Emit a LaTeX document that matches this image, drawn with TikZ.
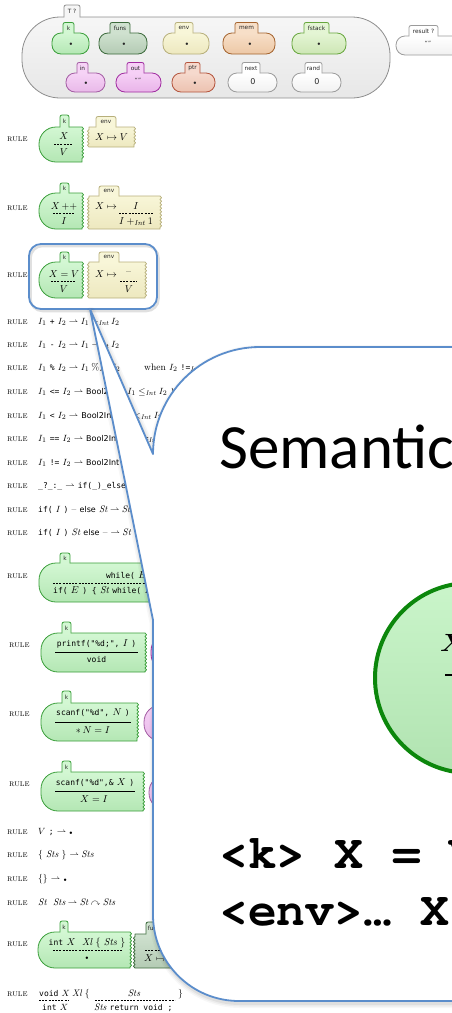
\documentclass[tikz,border=0pt]{standalone}
\usepackage{amsmath,amssymb}
\usepackage{fontspec}
\newfontfamily\lblfont{DejaVu Sans}
\newfontfamily\kcodefont{DejaVu Sans Mono}
\newfontfamily\slidefont{Carlito}
\newfontfamily\slidecode{texgyrecursor-bold.otf}
\usetikzlibrary{decorations.pathmorphing}

% cell colours: A = top shade, B = bottom shade, L = outline
\definecolor{kA}{HTML}{D3F7D3}\definecolor{kB}{HTML}{B4E7B4}\definecolor{kL}{HTML}{3A9E3A}
\definecolor{funsA}{HTML}{CFE1CF}\definecolor{funsB}{HTML}{B4CBB4}\definecolor{funsL}{HTML}{3C6A3C}
\definecolor{envA}{HTML}{F8F6D8}\definecolor{envB}{HTML}{EDE8BF}\definecolor{envL}{HTML}{B7AF7B}
\definecolor{memA}{HTML}{F7DFC8}\definecolor{memB}{HTML}{EDC8A6}\definecolor{memL}{HTML}{A4632E}
\definecolor{fstA}{HTML}{E4F5D4}\definecolor{fstB}{HTML}{CDE6B5}\definecolor{fstL}{HTML}{67A63D}
\definecolor{inA}{HTML}{F6D3F6}\definecolor{inB}{HTML}{E9B9E9}\definecolor{inL}{HTML}{A35CA3}
\definecolor{outA}{HTML}{F6D0F6}\definecolor{outB}{HTML}{E9B4E9}\definecolor{outL}{HTML}{A02BA0}
\definecolor{ptrA}{HTML}{F6D9CD}\definecolor{ptrB}{HTML}{ECC2B0}\definecolor{ptrL}{HTML}{B3533C}
\definecolor{nxA}{HTML}{FFFFFF}\definecolor{nxB}{HTML}{F1F1F1}\definecolor{nxL}{HTML}{9B9B9B}
\definecolor{TA}{HTML}{F6F6F6}\definecolor{TB}{HTML}{E7E7E7}\definecolor{TL}{HTML}{8D8D8D}
\definecolor{bigA}{HTML}{CAF5CA}\definecolor{bigB}{HTML}{B1E3B1}\definecolor{bigL}{HTML}{0C870C}
\definecolor{calloutL}{HTML}{5B8DCB}

\newcommand\kc[1]{{\kcodefont\fontsize{8}{9}\selectfont #1}}
\newcommand\ks[1]{{\lblfont\fontsize{8}{9}\selectfont #1}}
\newcommand\kdot{{\fontsize{5}{5}\selectfont$\bullet$}}
\newcommand\Int{\mathit{Int}}

\tikzset{
  wave/.style={decoration={bumps, amplitude=1.5pt, segment length=7pt}},
  cellline/.style={line width=0.8pt, line join=round},
  lbl/.style={inner sep=0pt, font=\lblfont\fontsize{5.8}{7}\selectfont, text=black!85},
  m/.style={inner sep=0pt, font=\fontsize{10}{11}\selectfont},
  rt/.style={anchor=base west, inner sep=0pt, font=\fontsize{9.5}{10}\selectfont},
  rulename/.style={anchor=base west, inner sep=0pt, font=\fontsize{9}{10}\selectfont},
  dsh/.style={line width=0.6pt, dash pattern=on 2pt off 1.2pt},
  bar/.style={line width=0.7pt},
  bigcode/.style={anchor=base west, inner sep=0pt, font=\slidecode\fontsize{48}{48}\selectfont},
}

% tab on top of a cell: name, x1, x2, top, bottom, colour prefix, label
\newcommand\celltab[7]{%
  \fill[#6A, rounded corners=2pt] (#2,#5+1.5) -- (#2,#4) -- (#3,#4) -- (#3,#5+1.5) -- cycle;
  \draw[#6L, cellline, rounded corners=2pt] (#2,#5) -- (#2,#4) -- (#3,#4) -- (#3,#5);
  \node[lbl] (#1) at ({(#2+#3)/2},{(#4+#5)/2+0.4}) {#7};
}
% configuration cell: name, colour, x1, x2, y1, y2, tab x1, tab x2, label
\newcommand\cfgcell[9]{%
  \path[draw=#2L, top color=#2A, bottom color=#2B, cellline, rounded corners=9pt] (#3,#5) rectangle (#4,#6);
  \celltab{#1}{#7}{#8}{#5-10.5}{#5}{#2}{#9}%
}
% rule cell, rounded on the left, torn on the right: colour, x1, x2, y1, y2
\newcommand\kbody[5]{%
  \path[draw=#1L, top color=#1A, bottom color=#1B, cellline]
    (#3,#4) decorate[wave]{-- (#3,#5)} -- ({#2+17},#5)
    .. controls ({#2+7.6},#5) and (#2,{#5-7.6}) .. (#2,{#5-17})
    -- (#2,{#4+17})
    .. controls (#2,{#4+7.6}) and ({#2+7.6},#4) .. ({#2+17},#4) -- cycle;
}
% rule cell torn on both sides
\newcommand\wbody[5]{%
  \path[draw=#1L, top color=#1A, bottom color=#1B, cellline]
    (#2,#4) -- (#3,#4) decorate[wave]{-- (#3,#5)} -- (#2,#5) decorate[wave]{-- (#2,#4)} -- cycle;
}
% rule cell torn on the left only
\newcommand\lbody[5]{%
  \path[draw=#1L, top color=#1A, bottom color=#1B, cellline]
    (#2,#5) decorate[wave]{-- (#2,#4)} -- (#3,#4) -- (#3,#5) -- cycle;
}
% outline of the speech bubble
\newcommand\calloutpath{(480,347) -- (260,347) .. controls (200.9,347) and (153,394.9) .. (153,454)
  -- (90,309) -- (153,620) -- (153,915) .. controls (153,962.5) and (191.5,1001) .. (239,1001)
  -- (480,1001) -- cycle}

\begin{document}
\begin{tikzpicture}[x=1pt,y=-1pt]
\useasboundingbox (0,0) rectangle (452,1013);
\clip (0,0) rectangle (452,1013);

% ---------------- configuration ----------------
\path[draw=TL, top color=TA, bottom color=TB, cellline, rounded corners=38pt] (22,17) rectangle (390,98);
\celltab{cfgT}{64}{80}{5}{17}{T}{T ?}
\cfgcell{cfgk}{k}{52}{89}{33}{54}{63}{74}{k}
\cfgcell{cfgfuns}{funs}{99}{147}{33}{54}{110}{130}{funs}
\cfgcell{cfgenv}{env}{163}{209}{33}{54}{175}{193}{env}
\cfgcell{cfgmem}{mem}{223}{275}{33}{54}{235}{258}{mem}
\cfgcell{cfgfst}{fst}{292}{346}{33}{54}{304}{329}{fstack}
\cfgcell{cfgin}{in}{66}{105}{73}{92}{77}{88}{in}
\cfgcell{cfgout}{out}{116}{161}{73}{92}{127}{144}{out}
\cfgcell{cfgptr}{ptr}{172}{215}{73}{92}{185}{200}{ptr}
\cfgcell{cfgnext}{nx}{228}{277}{73}{92}{242}{260}{next}
\cfgcell{cfgrand}{nx}{292}{341}{73}{92}{305}{322}{rand}
\cfgcell{cfgres}{nx}{396}{475}{36}{55}{409}{438}{result ?}
\node[lbl] (vk) at (71,44) {\kdot};
\node[lbl] (vfuns) at (124,44) {\kdot};
\node[lbl] (venv) at (187,44) {\kdot};
\node[lbl] (vmem) at (250,44) {\kdot};
\node[lbl] (vfst) at (319,44) {\kdot};
\node[lbl] (vin) at (86,83) {\kdot};
\node[lbl] (vout) at (138,80) {“”};
\node[lbl] (vptr) at (195,83) {\kdot};
\node[lbl, font=\lblfont\fontsize{8}{9}\selectfont] (vnext) at (253,82) {0};
\node[lbl, font=\lblfont\fontsize{8}{9}\selectfont] (vrand) at (317,82) {0};
\node[lbl] (vres) at (428,43) {“”};

% ---------------- variable lookup ----------------
\node[rulename] (n1) at (7,141) {\textsc{rule}};
\kbody{k}{39}{82}{127}{162}
\celltab{r1k}{60}{69}{115}{127}{k}{k}
\node[m] (r1a) at (64,136.5) {$X$};
\draw[dsh] (54,144) -- (73,144);
\node[m] (r1b) at (64,152.5) {$V$};
\wbody{env}{89}{134}{127}{147}
\celltab{r1e}{96}{116}{116.5}{127}{env}{env}
\node[m] (r1c) at (111.5,137) {$X \mapsto V$};

% ---------------- increment ----------------
\node[rulename] (n2) at (7,210) {\textsc{rule}};
\kbody{k}{39}{82}{193}{229}
\celltab{r2k}{60}{69}{183}{193}{k}{k}
\node[m] (r2a) at (64,206) {$X\,{+}{+}$};
\draw[dsh] (53,213.5) -- (75,213.5);
\node[m] (r2b) at (64,221.5) {$I$};
\wbody{env}{89}{160}{196}{229}
\celltab{r2e}{99}{119}{186}{196}{env}{env}
\node[m] (r2c) at (106,206) {$X \mapsto$};
\node[m] (r2d) at (136,206) {$I$};
\draw[dsh] (119,213.5) -- (153,213.5);
\node[m] (r2e) at (136,221.5) {$I +_{\Int} 1$};

% ---------------- assignment ----------------
\node[rulename] (n3) at (7,277) {\textsc{rule}};
\kbody{k}{39}{82}{262}{298}
\celltab{r3k}{60}{69}{252}{262}{k}{k}
\node[m] (r3a) at (64,274) {$X = V$};
\draw[dsh] (51,281.5) -- (76,281.5);
\node[m] (r3b) at (64,289.5) {$V$};
\wbody{env}{89}{145}{262}{298}
\celltab{r3e}{99}{119}{252}{262}{env}{env}
\node[m] (r3c) at (106,274) {$X \mapsto$};
\node[m] (r3d) at (128.5,273) {\textendash};
\draw[dsh] (120,281.5) -- (137,281.5);
\node[m] (r3f) at (129,289.5) {$V$};
\draw[black, opacity=0.12, line width=2.5pt, rounded corners=12pt] (30.5,246) rectangle (158.5,311);
\draw[calloutL, line width=1.8pt, rounded corners=12pt] (29,244) rectangle (157,309);

% ---------------- one-line rules ----------------
\foreach \y/\nm in {324/a,347/b,370/c,394/d,418/e,441/f,465/g,488/h,512/i,535/j,834/k,857/l,881/m,905/n}
  \node[rulename] (n\nm) at (7,\y) {\textsc{rule}};
\node[rt] (t1) at (38,324) {$I_1$ \kc{+} $I_2 \rightharpoonup I_1 +_{\Int} I_2$};
\node[rt] (t2) at (38,347) {$I_1$ \kc{-} $I_2 \rightharpoonup I_1 -_{\Int} I_2$};
\node[rt] (t3) at (38,370) {$I_1$ \kc{\%} $I_2 \rightharpoonup I_1 \mathbin{\%_{\Int}} I_2$};
\node[rt] (t3w) at (144,370) {when $I_2$ \kc{!=}$_{\Int}$ 0};
\node[rt] (t4) at (38,394) {$I_1$ \kc{<=} $I_2 \rightharpoonup$ \ks{Bool2Int}\kc{(} $I_1 \leq_{\Int} I_2$ \kc{)}};
\node[rt] (t5) at (38,418) {$I_1$ \kc{<} $I_2 \rightharpoonup$ \ks{Bool2Int}\kc{(} $I_1 <_{\Int} I_2$ \kc{)}};
\node[rt] (t6) at (38,441) {$I_1$ \kc{==} $I_2 \rightharpoonup$ \ks{Bool2Int}\kc{(} $I_1$ \kc{==}$_{\Int}$ $I_2$ \kc{)}};
\node[rt] (t7) at (38,465) {$I_1$ \kc{!=} $I_2 \rightharpoonup$ \ks{Bool2Int}\kc{(} $I_1$ \kc{!=}$_{\Int}$ $I_2$ \kc{)}};
\node[rt] (t8) at (38,488) {\kc{\_?\_:\_} $\rightharpoonup$ \kc{if(\_)\_else\_}};
\node[rt] (t9) at (38,512) {\kc{if(} $I$ \kc{)} \textendash{} \ks{else} $\mathit{St} \rightharpoonup \mathit{St}$};
\node[rt] (t10) at (38,535) {\kc{if(} $I$ \kc{)} $\mathit{St}$ \ks{else} \textendash{} $\rightharpoonup \mathit{St}$};

% ---------------- while ----------------
\node[rulename] (n4) at (7,578) {\textsc{rule}};
\kbody{k}{39}{260}{563}{602}
\celltab{r4k}{60}{70}{553}{563}{k}{k}
\node[m, anchor=west] (wb) at (53,590.5) {\kc{if(} $E$ \kc{) \{} $\mathit{St}$ \kc{while(} $E$ \kc{)} $\mathit{St}$ \kc{\} else \{\}}};
\node[m] (wt) at ([yshift=15.5pt]wb.center) {\kc{while(} $E$ \kc{)} $\mathit{St}$};
\draw[dsh] (53,583) -- (250,583);

% ---------------- printf ----------------
\node[rulename] (n5) at (9,647) {\textsc{rule}};
\kbody{k}{41}{145}{633}{672}
\celltab{r5k}{62}{71}{622}{633}{k}{k}
\node[m] (p1) at (96.5,644) {\kc{printf("\%d;",} $I$ \kc{)}};
\draw[bar] (55,652) -- (138,652);
\node[m] (p2) at (96.5,660) {\kc{void}};
\kbody{out}{151}{320}{634}{671}

% ---------------- scanf ----------------
\node[rulename] (n6) at (9,716) {\textsc{rule}};
\kbody{k}{41}{137}{703}{741}
\celltab{r6k}{62}{71}{691}{703}{k}{k}
\node[m] (s1a) at (93,713) {\kc{scanf("\%d",} $N$ \kc{)}};
\draw[bar] (55,722) -- (131,722);
\node[m] (s1b) at (93,730) {$*\,N = I$};
\kbody{in}{144}{320}{705}{741}

\node[rulename] (n7) at (9,786) {\textsc{rule}};
\kbody{k}{41}{143}{772}{811}
\celltab{r7k}{62}{71}{761}{772}{k}{k}
\node[m] (s2a) at (95,783) {\kc{scanf("\%d",\&} $X$ \kc{)}};
\draw[bar] (55,791) -- (135,791);
\node[m] (s2b) at (94,799) {$X = I$};
\kbody{in}{149}{320}{775}{810}

% ---------------- statements ----------------
\node[rt] (t11) at (38,834) {$V$ \kc{;} $\rightharpoonup$ \kdot};
\node[rt] (t12) at (38,857) {\{ $\mathit{Sts}$ \} $\rightharpoonup \mathit{Sts}$};
\node[rt] (t13) at (38,881) {\{\} $\rightharpoonup$ \kdot};
\node[rt] (t14) at (38,905) {$\mathit{St}\ \ \mathit{Sts} \rightharpoonup \mathit{St} \curvearrowright \mathit{Sts}$};

% ---------------- function declaration ----------------
\node[rulename] (n8) at (7,946) {\textsc{rule}};
\kbody{k}{38}{130}{932}{968}
\celltab{r8k}{60}{68}{921}{932}{k}{k}
\node[m] (f1) at (87,943) {\kc{int} $X$\ \ $\mathit{Xl}$ \{ $\mathit{Sts}$ \}};
\draw[dsh] (53,950) -- (122,950);
\node[m] (f2) at (87,958) {\kdot};
\lbody{funs}{135}{320}{934}{968}
\celltab{r8f}{146}{162}{922}{934}{funs}{funs}
\draw[dsh] (145,950) -- (300,950);
\node[m, anchor=west] (f3) at (144,958.5) {$X \mapsto$ \kc{int} $X$\ \ $\mathit{Xl}$ \{ $\mathit{Sts}$ \}};

% ---------------- void function ----------------
\node[rulename] (n9) at (7,996.5) {\textsc{rule}};
\node[rt] (v1) at (39,996.5) {\kc{void} $X$};
\draw[dsh] (39,1000.5) -- (68,1000.5);
\node[rt] (v2) at (42,1010.5) {\kc{int} $X$};
\node[rt] (v3) at (72,996.5) {$\mathit{Xl}$ \{};
\node[rt, anchor=base] (v4) at (134,996.5) {$\mathit{Sts}$};
\draw[dsh] (95,1000.5) -- (175,1000.5);
\node[rt] (v5) at (94,1010.5) {$\mathit{Sts}$ \kc{return void ;}};
\node[rt] (v6) at (178,996.5) {\}};

% ---------------- speech bubble ----------------
\begin{scope}[xshift=1pt, yshift=-2.5pt]
  \foreach \w/\o in {9/0.03,6/0.04,3/0.06}
    \draw[black, opacity=\o, line width=\w pt, line join=round] \calloutpath;
\end{scope}
\path[fill=white, draw=calloutL, line width=1.8pt, line join=round] \calloutpath;

\node[anchor=base west, inner sep=0pt, font=\slidefont\fontsize{63}{63}\selectfont] (title) at (219,468) {Semantic};
\node[circle, minimum size=190pt, inner sep=0pt, draw=bigL, line width=4pt, top color=bigA, bottom color=bigB] (bigk) at (470,678) {};
\node[anchor=base west, inner sep=0pt, font=\fontsize{52}{52}\selectfont] (bigx) at (440,651) {$\boldsymbol{X} \boldsymbol{=} \boldsymbol{V}$};
\draw[line width=2.5pt, dash pattern=on 9pt off 5pt] (445,675) -- (540,675);
\node[bigcode] (codek) at (219,868) {<k> X = V};
\node[bigcode] (codeenv) at (219,925) {<env>… X};
\end{tikzpicture}
\end{document}
